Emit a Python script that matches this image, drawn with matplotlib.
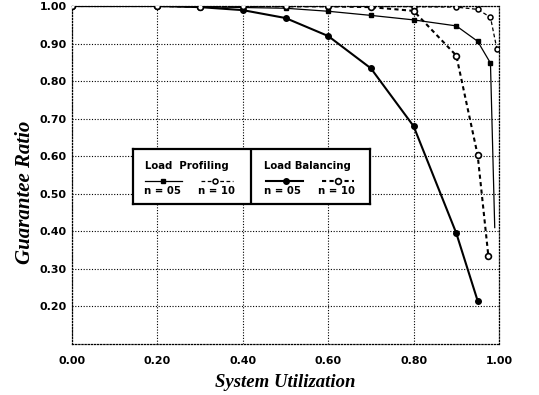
import numpy as np
import matplotlib
matplotlib.use("Agg")
from matplotlib import pyplot as plt

# values
lp05_x = [0.0, 0.2, 0.3, 0.4, 0.5, 0.6, 0.7, 0.8, 0.9, 0.95, 0.98, 0.99]
lp05_y = [1.000, 1.000, 0.998, 0.996, 0.994, 0.986, 0.975, 0.963, 0.947, 0.906, 0.848, 0.41]
lp10_x = [0.0, 0.2, 0.3, 0.4, 0.5, 0.6, 0.7, 0.8, 0.9, 0.95, 0.98, 0.995]
lp10_y = [1.000, 1.000, 1.000, 1.000, 1.000, 1.000, 0.999, 0.998, 0.997, 0.991, 0.970, 0.886]
lb05_x = [0.0, 0.2, 0.3, 0.4, 0.5, 0.6, 0.7, 0.8, 0.9, 0.95]
lb05_y = [1.000, 1.000, 0.997, 0.989, 0.968, 0.920, 0.834, 0.68, 0.395, 0.215]
lb10_x = [0.0, 0.2, 0.3, 0.4, 0.5, 0.6, 0.7, 0.8, 0.9, 0.95, 0.975]
lb10_y = [1.000, 1.000, 0.998, 1.000, 0.999, 0.999, 0.997, 0.987, 0.868, 0.603, 0.335]

xticks = [0.0, 0.2, 0.4, 0.6, 0.8, 1.0]
yticks = [0.2, 0.3, 0.4, 0.5, 0.6, 0.7, 0.8, 0.9, 1.0]

fig = plt.figure(figsize=(5.39, 3.95), dpi=100)
ax = fig.add_axes([72/539, 1-344/395, 427/539, 338/395])

lb10_ls = (0, (2, 1.6))
ax.plot(lp05_x, lp05_y, color="k", lw=0.9, marker="s", ms=3, markevery=list(range(11)), zorder=3)
ax.plot(lp10_x, lp10_y, color="k", lw=0.9, ls=(0, (3, 2)), marker="o", ms=3.6, mfc="white", mew=1.1, zorder=3)
ax.plot(lb05_x, lb05_y, color="k", lw=1.5, marker="o", ms=4, zorder=3)
ax.plot(lb10_x, lb10_y, color="k", lw=1.5, ls=lb10_ls, marker="o", ms=4.2, mfc="white", mew=1.2, zorder=3)

ax.set_xlim(0, 1.0)
ax.set_ylim(0.1, 1.0)
ax.set_xticks(xticks)
ax.set_yticks(yticks)
ax.set_xticklabels(["%.2f" % v for v in xticks])
ax.set_yticklabels(["%.2f" % v for v in yticks])
ax.tick_params(axis="x", length=0, pad=8.5)
ax.tick_params(axis="y", length=0, pad=4)
for lab in ax.get_xticklabels() + ax.get_yticklabels():
    lab.set_fontfamily("DejaVu Sans")
    lab.set_fontweight("bold")
    lab.set_fontsize(7.9)
ax.grid(True, color="k", ls=(0, (1, 1.5)), lw=0.8)
for s in ax.spines.values():
    s.set_linestyle((0, (1, 1.5)))
    s.set_linewidth(0.9)

ax.set_xlabel("System Utilization", family="Liberation Serif", style="italic",
              weight="bold", fontsize=13.5, va="center")
ax.xaxis.set_label_coords(0.5, -0.115)
ax.set_ylabel("Guarantee Ratio", family="Liberation Serif", style="italic",
              weight="bold", fontsize=15, va="center")
ax.yaxis.set_label_coords(-0.11, 0.45)

# legend box drawn as a small framed panel
lg = fig.add_axes([133/539, 1-204/395, 237/539, 55/395])
lg.set_xlim(0, 237)
lg.set_ylim(55, 0)
lg.set_xticks([])
lg.set_yticks([])
for s in lg.spines.values():
    s.set_linewidth(1.6)
lg.axvline(118, color="k", lw=1.6)
tfont = dict(family="DejaVu Sans", weight="bold", fontsize=7.3)
lg.text(12, 17, "Load  Profiling", va="center", ha="left", **tfont)
lg.text(131, 17, "Load Balancing", va="center", ha="left", **tfont)
lg.plot([12, 49], [32, 32], color="k", lw=0.9)
lg.plot([30], [32], color="k", marker="s", ms=3)
lg.plot([68, 100], [32, 32], color="k", lw=0.9, ls=(0, (3, 2)))
lg.plot([82], [32], color="k", marker="o", ms=3.6, mfc="white", mew=1.1)
lg.plot([133, 170], [32, 32], color="k", lw=1.5)
lg.plot([153], [32], color="k", marker="o", ms=4)
lg.plot([189, 221], [32, 32], color="k", lw=1.5, ls=lb10_ls)
lg.plot([205], [32], color="k", marker="o", ms=4.2, mfc="white", mew=1.2)
lg.text(30, 42, "n = 05", va="center", ha="center", **tfont)
lg.text(83, 42, "n = 10", va="center", ha="center", **tfont)
lg.text(150, 42, "n = 05", va="center", ha="center", **tfont)
lg.text(204, 42, "n = 10", va="center", ha="center", **tfont)

fig.savefig("out.png", dpi=100)
